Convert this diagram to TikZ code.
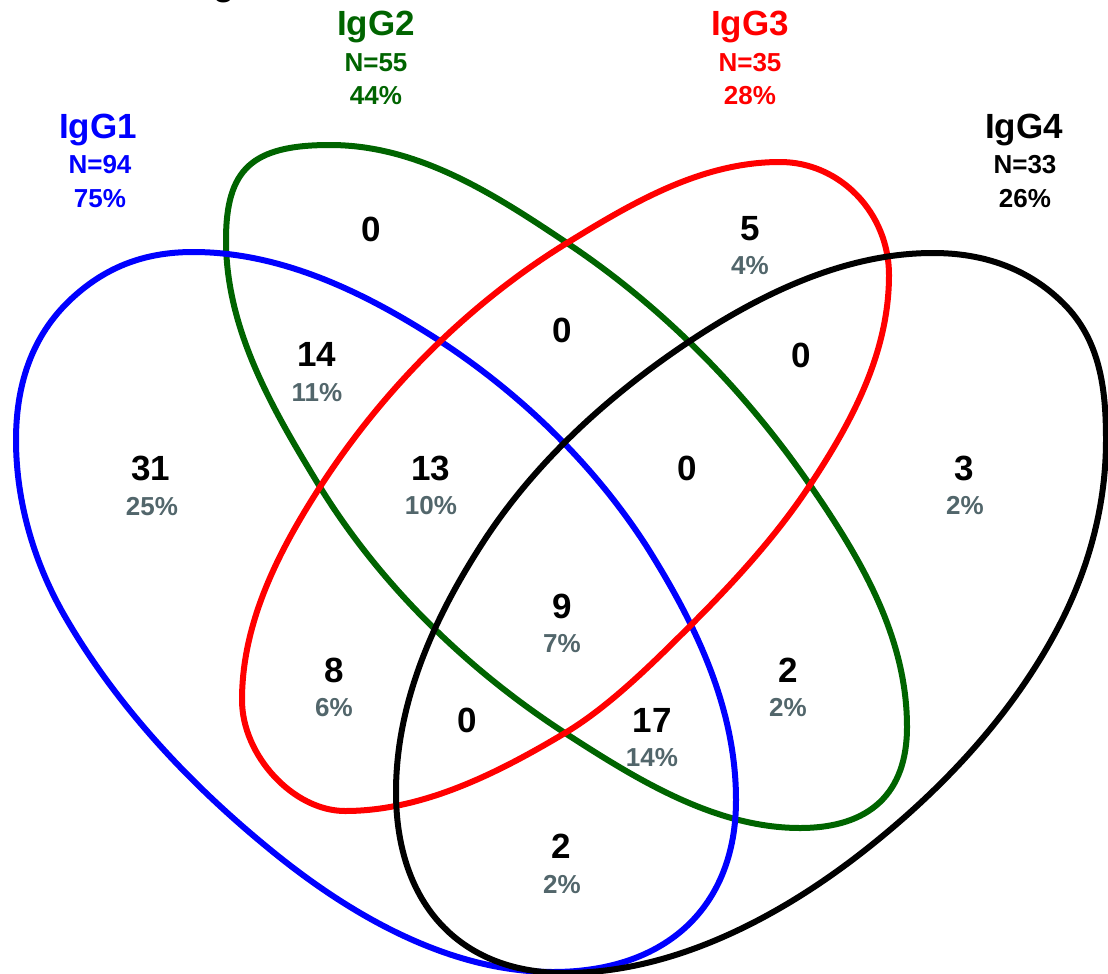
\documentclass[tikz,border=0pt]{standalone}
\usepackage{fontspec}
\setmainfont{Liberation Sans}
\definecolor{vblue}{RGB}{0,0,255}
\definecolor{vgreen}{RGB}{0,100,0}
\definecolor{vred}{RGB}{255,0,0}
\definecolor{pctgray}{RGB}{82,102,107}
\tikzset{
  big/.style={font=\fontsize{35}{40}\selectfont\bfseries, anchor=base, inner sep=0pt},
  small/.style={font=\fontsize{26}{30}\selectfont\bfseries, anchor=base, inner sep=0pt},
  num/.style={big, text=black},
  pct/.style={small, text=pctgray},
  setline/.style={line width=6pt, line join=round},
}
\begin{document}
\begin{tikzpicture}[x=1pt,y=-1pt]
\useasboundingbox (0,0) rectangle (1108,974);
% fragment of cropped title
\node[big] (frag) at (224,-4) {g};

% IgG2 (green)
\draw[setline, vgreen] (330,145) .. controls (418,145) and (494,194) .. (567,243)
  .. controls (662.7,306.8) and (744.7,390.4) .. (810,485)
  .. controls (861,559) and (907,637) .. (907,727)
  .. controls (907,793) and (870,828) .. (800,828)
  .. controls (715,828) and (636,779) .. (565,733)
  .. controls (467.7,669.8) and (381,585.7) .. (320,487)
  .. controls (273,410) and (226,330) .. (226,240)
  .. controls (226,169) and (252,145) .. cycle;
% IgG1 (blue)
\draw[setline, vblue] (193,252) .. controls (283,252) and (368,294) .. (443,343)
  .. controls (523,396) and (595,466) .. (647,547)
  .. controls (696,625) and (736,708) .. (736,800)
  .. controls (736,907) and (666,972) .. (553,972)
  .. controls (448,972) and (348,914) .. (267,847)
  .. controls (189,783) and (118,707) .. (67,620)
  .. controls (35,566) and (16,503) .. (16,440)
  .. controls (16,388) and (30,340) .. (67,303)
  .. controls (102.5,268) and (143,252) .. cycle;
% IgG3 (red)
\draw[setline, vred] (780,162) .. controls (840,162) and (889,213) .. (889,275)
  .. controls (889,352) and (852.6,420.9) .. (810,485)
  .. controls (777,535) and (735.4,580.6) .. (693,623)
  .. controls (655.5,660.5) and (610.5,705.8) .. (565,733)
  .. controls (498,773) and (423,811) .. (345,811)
  .. controls (293.5,811) and (242,755.5) .. (242,700)
  .. controls (242,623) and (278.2,551.7) .. (320,487)
  .. controls (383,389.6) and (468.2,303.8) .. (567,243)
  .. controls (633.5,202) and (702,162) .. cycle;
% IgG4 (black)
\draw[setline, black] (933,253) .. controls (983,253) and (1027.5,268) .. (1063,303)
  .. controls (1100,339.6) and (1106,388) .. (1106,440)
  .. controls (1106,503) and (1090,564) .. (1062,620)
  .. controls (1017,709) and (947,785) .. (869,847)
  .. controls (783,915.6) and (675,973) .. (565,973)
  .. controls (460,973) and (396,904) .. (396,792)
  .. controls (396,704) and (432.6,621) .. (480,547)
  .. controls (532,465) and (606.5,397) .. (687,343)
  .. controls (760,294) and (845,253) .. cycle;

% set labels
\node[big, text=vblue] (l1) at (98,138) {IgG1};
\node[small, text=vblue] (l1n) at (100,173) {N=94};
\node[small, text=vblue] (l1p) at (100,207) {75\%};
\node[big, text=vgreen] (l2) at (376,36) {IgG2};
\node[small, text=vgreen] (l2n) at (376,71) {N=55};
\node[small, text=vgreen] (l2p) at (376,104) {44\%};
\node[big, text=vred] (l3) at (750,36) {IgG3};
\node[small, text=vred] (l3n) at (750,71) {N=35};
\node[small, text=vred] (l3p) at (750,104) {28\%};
\node[big, text=black] (l4) at (1024,138) {IgG4};
\node[small, text=black] (l4n) at (1025,173) {N=33};
\node[small, text=black] (l4p) at (1025,207) {26\%};

% region counts
\node[num] (r2) at (371,241.5) {0};
\node[num] (r3) at (750,240.5) {5};
\node[pct] (r3p) at (750,274.5) {4\%};
\node[num] (r12) at (317,366.5) {14};
\node[pct] (r12p) at (317,401.5) {11\%};
\node[num] (r23) at (562,342.5) {0};
\node[num] (r34) at (801,367.5) {0};
\node[num] (r1) at (151,480.5) {31};
\node[pct] (r1p) at (152,515) {25\%};
\node[num] (r123) at (431,480.5) {13};
\node[pct] (r123p) at (431,514.5) {10\%};
\node[num] (r234) at (687,480.5) {0};
\node[num] (r4) at (964,480) {3};
\node[pct] (r4p) at (965,514.5) {2\%};
\node[num] (r1234) at (562,618) {9};
\node[pct] (r1234p) at (562,652.5) {7\%};
\node[num] (r13) at (334,682) {8};
\node[pct] (r13p) at (334,716.5) {6\%};
\node[num] (r24) at (788,682) {2};
\node[pct] (r24p) at (788,716.5) {2\%};
\node[num] (r124) at (467,732.5) {0};
\node[num] (r134) at (652,732.5) {17};
\node[pct] (r134p) at (652,766.5) {14\%};
\node[num] (r14) at (561,858.5) {2};
\node[pct] (r14p) at (562,893.5) {2\%};
\end{tikzpicture}
\end{document}
